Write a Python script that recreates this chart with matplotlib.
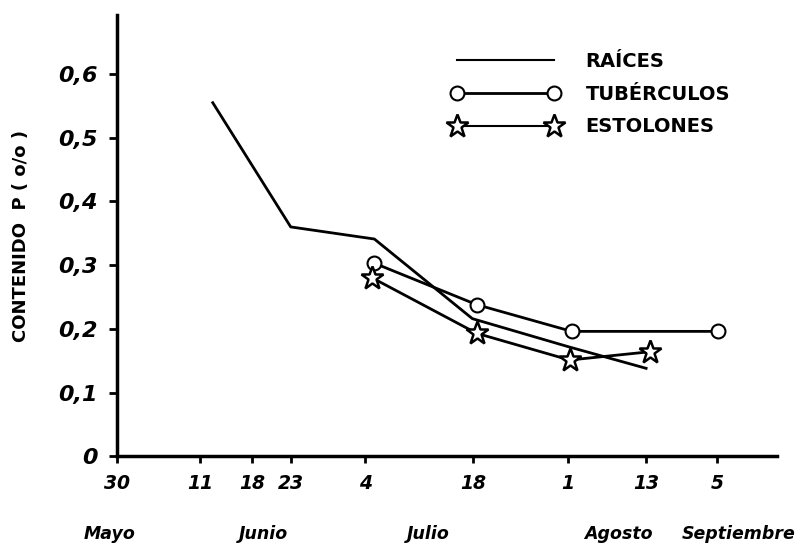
import matplotlib
matplotlib.use("Agg")

import matplotlib.pyplot as plt
from matplotlib.lines import Line2D

# x positions are days after 30 May (Sep 5 drawn compressed, as in the original)
tick_pos = [0, 11.6, 18.9, 24.3, 34.7, 49.8, 63.1, 74.0, 83.9]
tick_labels = ["30", "11", "18", "23", "4", "18", "1", "13", "5"]
month_pos = [-1.0, 20.5, 43.5, 70.2, 87.0]
month_names = ["Mayo", "Junio", "Julio", "Agosto", "Septiembre"]

raices_x = [13.4, 24.3, 36.0, 49.7, 63.1, 74.0]
raices_y = [0.555, 0.360, 0.341, 0.216, 0.172, 0.138]

tuberculos_x = [36.0, 50.3, 63.6, 84.0]
tuberculos_y = [0.303, 0.238, 0.196, 0.196]

estolones_x = [35.7, 50.3, 63.3, 74.5]
estolones_y = [0.280, 0.193, 0.151, 0.164]

y_ticks = [0, 0.1, 0.2, 0.3, 0.4, 0.5, 0.6]
y_tick_labels = ["0", "0,1", "0,2", "0,3", "0,4", "0,5", "0,6"]

fig = plt.figure(figsize=(8.01, 5.49), dpi=100)
ax = fig.add_axes([0.146, 0.169, 0.824, 0.804])

ax.plot(raices_x, raices_y, color="black", lw=2.0)
ax.plot(tuberculos_x, tuberculos_y, color="black", lw=2.0, marker="o",
        ms=10, mfc="white", mec="black", mew=1.5)
ax.plot(estolones_x, estolones_y, color="black", lw=2.0, marker="*",
        ms=17, mfc="white", mec="black", mew=1.8)

ax.set_xlim(0, 92.3)
ax.set_ylim(0, 0.693)

for side in ["top", "right"]:
    ax.spines[side].set_visible(False)
for side in ["left", "bottom"]:
    ax.spines[side].set_linewidth(2.5)

ax.set_yticks(y_ticks)
ax.set_yticklabels(y_tick_labels, fontsize=16, fontweight="bold", style="italic")
ax.set_xticks(tick_pos)
ax.set_xticklabels(tick_labels, fontsize=13.5, fontweight="bold", style="italic")
ax.tick_params(axis="y", direction="out", length=6, width=2, pad=8)
ax.tick_params(axis="x", direction="out", length=5, width=2, pad=8)

for pos, name in zip(month_pos, month_names):
    ax.text(pos, -0.122, name, ha="center", va="center", fontsize=12.5,
            fontweight="bold", style="italic")

ax.set_ylabel("CONTENIDO  P ( o/o )", fontsize=13, fontweight="bold", labelpad=20)

handles = [
    Line2D([], [], color="black", lw=1.5),
    Line2D([], [], color="black", lw=2.0, marker="o", ms=10, mfc="white",
           mec="black", mew=1.5),
    Line2D([], [], color="black", lw=1.5, marker="*", ms=17, mfc="white",
           mec="black", mew=1.8),
]
ax.legend(handles, ["RAÍCES", "TUBÉRCULOS", "ESTOLONES"], numpoints=2,
          handlelength=5.6, handletextpad=1.3, labelspacing=0.7, frameon=False,
          loc="upper left", bbox_to_anchor=(0.48, 0.955),
          prop={"weight": "bold", "size": 14})

fig.savefig("out.png", dpi=100)
